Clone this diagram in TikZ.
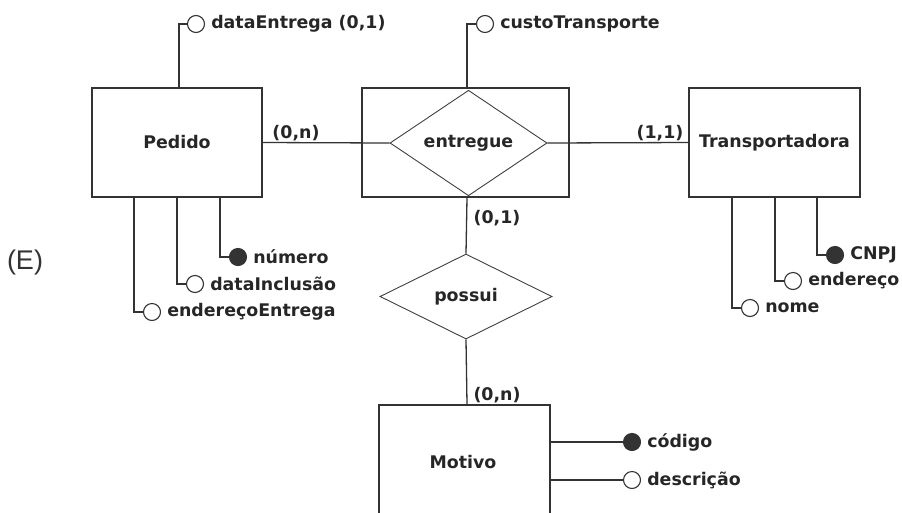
\documentclass[tikz,border=0pt]{standalone}
\usepackage{fontspec}
\setmainfont{DejaVu Sans}
\newfontfamily\labelfont{Liberation Sans}
\usetikzlibrary{shapes.geometric}
\begin{document}
\begin{tikzpicture}[x=1pt,y=-1pt,
  every node/.style={font=\fontsize{17.4}{19}\selectfont\bfseries, text=black!85},
  entity/.style={draw=black!80, line width=1.6pt, rectangle, minimum width=#1, minimum height=109pt, inner sep=0pt},
  rel/.style={draw=black!75, line width=0.9pt, diamond, inner sep=0pt},
  attr/.style={circle, draw=black!80, line width=1.1pt, fill=white, minimum size=17pt, inner sep=0pt},
  keyattr/.style={attr, fill=black!80},
  conn/.style={draw=black!80, line width=1.3pt},
  atext/.style={anchor=west, inner sep=0pt, xshift=6pt},
  card/.style={inner sep=0pt}
]
\useasboundingbox (0,0) rectangle (902,512);
\clip (0,0) rectangle (902,512);

% entities
\node[entity=170pt] (pedido) at (177,142.5) {Pedido};
\node[entity=207pt] (assoc) at (465.5,142.5) {};
\node[entity=171pt] (transp) at (774.5,142.5) {Transportadora};
\node[entity=171pt, minimum height=112pt] (motivo) at (464.5,461) {};
\node (motivotxt) at (463,462) {Motivo};

% relationships
\node[rel, minimum width=157pt, minimum height=60pt] (entregue) at (468.5,143) {entregue};
\node[rel, minimum width=172pt, minimum height=85pt] (possui) at (466,296.5) {possui};

% connectors between entities and relationships
\draw[conn] (pedido.east) -- (entregue.west);
\draw[conn] (entregue.east) -- (transp.west);
\draw[conn] ([xshift=1.5pt]assoc.south) -- (possui.north);
\draw[conn] (possui.south) -- ([xshift=2.5pt]motivo.north);

% cardinalities
\node[card] (c1) at (296,133) {(0,n)};
\node[card] (c2) at (660,133) {(1,1)};
\node[card] (c3) at (497,218) {(0,1)};
\node[card] (c4) at (497,395) {(0,n)};

% Pedido attributes
\node[attr] (dataEnt) at (196,24) {};
\node[atext] at (dataEnt.east) {dataEntrega (0,1)};
\draw[conn] ([xshift=2pt]pedido.north) |- (dataEnt.west);

\node[keyattr] (numero) at (238,257) {};
\node[atext] at (numero.east) {número};
\draw[conn] ([xshift=43pt]pedido.south) |- (numero.west);

\node[attr] (dataInc) at (195,284) {};
\node[atext] at (dataInc.east) {dataInclusão};
\draw[conn] (pedido.south) |- (dataInc.west);

\node[attr] (endEnt) at (152,312) {};
\node[atext] at (endEnt.east) {endereçoEntrega};
\draw[conn] ([xshift=-43pt]pedido.south) |- (endEnt.west);

% entregue attribute
\node[attr] (custo) at (485,24) {};
\node[atext] at (custo.east) {custoTransporte};
\draw[conn] ([xshift=1.5pt]assoc.north) |- (custo.west);

% Transportadora attributes
\node[keyattr] (cnpj) at (835,255) {};
\node[atext] at (cnpj.east) {CNPJ};
\draw[conn] ([xshift=42.5pt]transp.south) |- (cnpj.west);

\node[attr] (endT) at (793,281) {};
\node[atext] at (endT.east) {endereço};
\draw[conn] ([xshift=0.5pt]transp.south) |- (endT.west);

\node[attr] (nome) at (750,308) {};
\node[atext] at (nome.east) {nome};
\draw[conn] ([xshift=-42.5pt]transp.south) |- (nome.west);

% Motivo attributes
\node[keyattr] (codigo) at (632,442) {};
\node[atext] at (codigo.east) {código};
\draw[conn] ([yshift=19pt]motivo.east) -- (codigo.west);

\node[attr] (descr) at (632,480) {};
\node[atext] at (descr.east) {descrição};
\draw[conn] ([yshift=-19pt]motivo.east) -- (descr.west);

% option label
\node[font=\labelfont\fontsize{27}{29}\selectfont, text=black!80] (opt) at (25,263) {(E)};
\end{tikzpicture}
\end{document}
